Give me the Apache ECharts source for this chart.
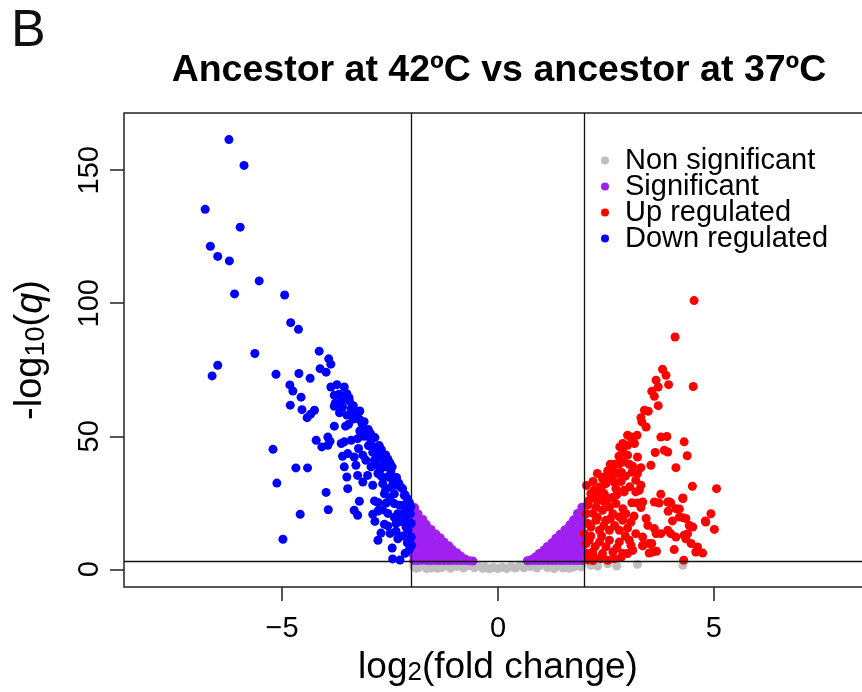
<!DOCTYPE html>
<html><head><meta charset="utf-8">
<script src="https://cdn.jsdelivr.net/npm/echarts@6/dist/echarts.min.js"></script>
<style>html,body{margin:0;padding:0;background:#fff}#c{width:862px;height:692px}</style>
</head><body><div id="c"></div>
<script>
const panelLabel = 'B';
const chartTitle = 'Ancestor at 42ºC vs ancestor at 37ºC';
const legendNames = ['Non significant', 'Significant', 'Up regulated', 'Down regulated'];
const xTicks = [-5, 0, 5];
const yTicks = [0, 50, 100, 150];
const foldThresholds = [-2, 2];
const qThreshold = 3;

const nonSig = [
[-1.95,1.2],[-1.85,0.6],[-1.8,1.9],[-1.7,0.9],[-1.6,2.2],[-1.55,0.5],[-1.45,1.4],[-1.35,2.3],[-1.3,0.7],[-1.2,1.6],
[-1.1,0.4],[-1.05,2.1],[-0.95,1.1],[-0.85,1.9],[-0.8,0.5],[-0.7,1.3],[-0.6,2.0],[-0.55,0.6],[-0.45,1.2],[-0.35,0.4],
[-0.3,1.0],[-0.2,0.2],[-0.1,0.7],[0,0.3],[0.1,0.8],[0.2,0.3],[0.3,1.0],[0.4,0.5],[0.5,1.3],[0.6,0.6],
[0.65,1.9],[0.75,1.0],[0.85,2.1],[0.9,0.5],[1.0,1.5],[1.1,2.4],[1.15,0.7],[1.25,1.8],[1.35,0.9],[1.45,2.2],
[1.5,0.5],[1.6,1.5],[1.7,2.3],[1.75,0.8],[1.85,1.6],[1.92,0.9],[2.15,1.5],[2.31,1.2],[2.54,2.1],[2.75,1.2],
[3.23,1.9],[4.28,1.5],[-1.9,0.4],[-1.65,0.3],[-1.4,0.4],[1.3,0.3],[1.65,0.4],[1.95,2.2],[-1.95,2.4]
];

const sig = [
[-1.95,3.3],[-1.96,5.5],[-1.95,7.7],[-1.97,10.3],[-1.95,12.1],[-1.96,14.3],[-1.95,16.5],[-1.96,18.7],[-1.94,20.9],[-1.93,23.2],
[-1.85,3.3],[-1.86,5.6],[-1.85,7.8],[-1.84,9.9],[-1.85,12.2],[-1.86,14.3],[-1.85,16.6],[-1.84,18.8],[-1.85,20.8],
[-1.75,3.4],[-1.76,5.5],[-1.75,7.7],[-1.74,9.9],[-1.75,12.1],[-1.76,14.4],[-1.75,16.5],[-1.74,18.7],
[-1.65,3.3],[-1.65,5.5],[-1.66,7.7],[-1.65,9.9],[-1.64,12.1],[-1.65,14.3],[-1.66,16.8],
[-1.55,3.3],[-1.56,5.5],[-1.55,7.7],[-1.54,9.9],[-1.55,12.1],[-1.55,15.0],
[-1.45,3.3],[-1.45,5.5],[-1.46,7.7],[-1.45,9.9],[-1.44,13.3],
[-1.35,3.3],[-1.36,5.5],[-1.35,7.8],[-1.35,9.9],[-1.34,11.9],
[-1.25,3.3],[-1.26,5.5],[-1.25,7.7],[-1.25,10.3],
[-1.15,3.3],[-1.15,5.5],[-1.16,7.6],[-1.14,8.9],
[-1.05,3.3],[-1.05,5.4],[-1.06,7.4],
[-0.95,3.3],[-0.96,5.0],[-0.95,6.2],
[-0.85,3.3],[-0.86,4.9],
[-0.75,3.3],[-0.76,3.9],[-0.66,3.2],[-0.58,3.1],
[1.95,3.3],[1.96,5.5],[1.95,7.7],[1.96,9.9],[1.95,12.1],[1.94,14.3],[1.95,16.5],[1.96,18.7],[1.95,20.9],[1.94,23.3],
[1.85,3.3],[1.86,5.5],[1.85,7.7],[1.84,9.9],[1.85,12.1],[1.86,14.3],[1.85,16.5],[1.85,18.7],[1.84,21.0],
[1.75,3.3],[1.75,5.5],[1.76,7.7],[1.75,9.9],[1.74,12.1],[1.75,14.3],[1.76,16.5],[1.75,18.6],
[1.65,3.3],[1.66,5.5],[1.65,7.7],[1.65,9.9],[1.64,12.1],[1.65,14.3],[1.66,16.7],
[1.55,3.3],[1.55,5.5],[1.56,7.7],[1.55,9.9],[1.54,12.1],[1.55,14.9],
[1.45,3.3],[1.46,5.5],[1.45,7.7],[1.45,9.9],[1.44,13.2],
[1.35,3.3],[1.35,5.5],[1.36,7.7],[1.35,9.9],[1.34,11.7],
[1.25,3.3],[1.26,5.5],[1.25,7.7],[1.25,10.0],
[1.15,3.3],[1.15,5.5],[1.16,7.5],[1.14,8.6],
[1.05,3.3],[1.05,5.4],[1.06,7.2],
[0.95,3.3],[0.96,4.8],[0.95,5.9],
[0.85,3.3],[0.86,4.6],
[0.75,3.3],[0.76,3.6],[0.68,3.2]
];

const up = [
[4.54,101.0],[4.10,87.3],[4.52,68.7],[3.81,75.2],[3.89,72.9],[3.66,71.1],[3.71,68.5],[3.95,69.4],[3.56,66.9],[3.62,65.0],
[3.71,61.5],[3.39,59.8],[3.48,59.4],[3.31,57.0],[3.33,55.4],[3.43,53.5],[3.77,49.7],[3.91,49.9],[3.00,50.4],[3.08,49.7],
[3.22,50.4],[2.89,47.3],[3.00,46.6],[3.16,47.3],[4.31,47.9],[3.64,43.9],[3.85,44.7],[3.93,44.1],[4.38,42.7],[2.89,44.1],
[3.00,42.9],[3.23,42.2],[2.92,40.3],[3.04,39.5],[3.54,39.1],[4.12,38.2],[3.12,38.7],[3.31,38.2],[3.23,36.0],[2.54,37.0],
[2.66,37.2],[2.77,36.0],[2.86,36.4],[2.46,34.7],[2.62,34.1],[2.69,32.8],[5.06,30.3],[4.50,31.2],[3.19,33.5],[3.31,31.6],
[3.27,29.7],[3.19,29.1],[2.73,30.3],[2.92,29.7],[3.77,28.2],[4.28,26.8],[2.23,29.7],[2.35,28.4],[2.46,28.4],[3.62,25.3],
[3.73,24.9],[3.93,25.3],[4.00,24.9],[3.23,24.9],[3.35,25.3],[3.31,23.2],[4.20,22.7],[3.94,21.8],[4.93,20.9],[4.80,18.2],
[5.01,15.0],[4.28,19.4],[4.04,18.2],[2.89,22.8],[2.92,20.9],[3.08,17.8],[3.43,19.1],[3.47,16.5],[3.62,15.3],[3.77,13.4],
[3.93,14.7],[4.00,13.4],[4.12,12.1],[4.43,16.5],[4.51,15.9],[4.39,13.4],[4.35,11.5],[4.47,9.7],[4.62,8.4],[4.74,6.1],
[4.58,6.5],[4.08,7.4],[4.30,3.4],[3.35,8.8],[3.50,6.1],[3.67,6.8],[3.56,9.7],[3.08,9.0],[3.00,5.9],[2.85,4.4],
[2.69,4.0],[2.54,3.4],[2.38,4.0],[2.23,4.6],[2.08,5.9],[2.04,9.7],[2.00,13.4],[2.08,17.2],[2.04,20.9],[2.08,24.7],
[2.15,28.4],[2.42,34.1],[2.50,32.2],[2.35,30.9],[2.27,29.1],[2.19,27.8],[2.11,25.9],[2.08,24.1],[2.92,29.1],[2.27,23.4],
[2.42,22.2],[2.58,23.4],[2.73,24.7],[2.66,20.9],[2.50,18.4],[2.27,18.4],[2.15,15.9],[2.35,14.7],[2.58,14.7],[2.81,14.7],
[2.89,18.4],[2.96,20.9],[2.81,19.7],[2.11,10.9],[2.35,10.3],[2.58,10.9],[2.81,10.3],[3.04,10.9],[3.19,13.4],[3.35,12.1],
[3.50,9.7],[3.66,13.4],[2.19,6.5],[2.42,5.9],[2.66,6.5],[2.89,5.9],[3.12,7.1],[3.35,9.0],[3.58,6.5],[3.97,25.3],
[4.12,22.8],[4.28,26.6],[4.20,19.7],[4.35,19.1],[4.31,12.8],[4.81,17.8],[2.2,33.0],[2.3,36.0],[2.4,31.0],[2.55,26.5],
[2.65,27.0],[2.75,28.0],[2.2,21.0],[2.3,26.0],[2.45,25.5],[2.6,19.0],[2.7,16.5],[2.4,12.5],[2.5,8.5],[2.25,8.5],
[2.15,12.5],[2.3,19.5],[2.45,16.5],[2.1,3.5],[2.2,3.3],[2.75,8.0],[2.95,12.5],[3.0,15.5],[3.15,20.0],[3.1,25.0],
[3.05,31.0],[2.85,33.0],[2.95,35.0],[3.1,36.5],[2.8,39.5],[2.82,46.0],[2.8,42.5],[2.7,39.5],[2.6,39.5],[2.05,31.5]
];

const down = [
[-6.23,161.5],[-5.88,151.8],[-6.78,135.3],[-5.97,128.6],[-6.66,121.4],[-6.49,117.6],[-6.22,115.9],[-5.53,108.4],[-6.10,103.5],[-4.94,103.1],
[-4.80,92.7],[-4.62,90.2],[-5.63,81.1],[-4.14,82.0],[-3.92,79.1],[-3.87,77.1],[-4.12,75.4],[-3.98,74.1],[-6.49,76.7],[-6.62,72.7],
[-5.14,73.3],[-4.61,73.6],[-4.35,71.8],[-4.82,69.3],[-4.75,67.0],[-4.56,64.7],[-4.81,61.7],[-4.54,60.0],[-4.42,57.0],[-4.25,59.8],
[-4.34,58.3],[-3.87,68.5],[-3.73,69.4],[-3.56,68.5],[-3.79,65.4],[-3.68,65.8],[-3.50,66.0],[-3.77,62.3],[-3.65,62.9],[-3.44,63.2],
[-3.79,61.3],[-3.40,60.4],[-3.67,58.8],[-3.21,56.4],[-3.15,54.8],[-3.79,53.8],[-3.53,53.8],[-3.46,54.5],[-3.09,52.9],[-3.02,50.6],
[-4.21,48.5],[-3.94,49.7],[-3.89,48.1],[-4.08,46.0],[-3.94,46.6],[-3.63,47.3],[-3.56,47.9],[-3.40,48.5],[-3.25,49.1],[-3.23,45.4],
[-2.94,48.5],[-2.88,46.0],[-2.78,43.5],[-5.21,45.1],[-3.60,42.5],[-3.48,43.5],[-3.33,42.2],[-3.13,42.9],[-3.06,41.0],[-2.86,41.0],
[-2.75,42.2],[-2.67,42.9],[-4.68,38.1],[-4.41,38.1],[-3.56,38.5],[-3.29,39.1],[-2.94,38.5],[-2.82,39.1],[-2.71,37.9],[-2.59,38.5],
[-2.48,36.6],[-3.50,34.7],[-3.25,35.3],[-3.02,35.3],[-2.78,36.0],[-2.55,34.7],[-2.44,33.5],[-5.12,32.4],[-3.13,32.8],[-2.90,31.6],
[-2.67,32.2],[-2.48,30.9],[-2.32,31.6],[-2.21,30.3],[-3.48,30.3],[-3.98,28.9],[-2.63,28.4],[-2.40,28.4],[-2.17,27.8],[-3.21,25.6],
[-2.86,25.7],[-2.78,25.1],[-2.59,24.9],[-2.40,24.7],[-2.28,24.1],[-2.09,24.7],[-3.93,22.4],[-3.33,22.2],[-3.25,20.3],[-2.90,20.7],
[-2.78,21.9],[-2.67,22.4],[-2.32,20.9],[-2.17,21.5],[-2.03,20.9],[-4.58,20.7],[-2.85,18.0],[-2.63,16.9],[-2.55,16.3],[-2.36,17.2],
[-2.13,15.9],[-2.01,17.2],[-2.71,13.6],[-2.36,14.3],[-2.09,14.7],[-4.98,11.3],[-2.78,10.9],[-2.32,11.5],[-2.01,12.1],[-2.45,8.0],
[-2.44,3.9],[-2.27,3.5],[-3.45,64.5],[-3.35,61.5],[-3.3,58.5],[-3.2,59.5],[-3.1,55.5],[-3.0,52.5],[-2.95,51.0],[-2.85,49.5],
[-2.75,46.5],[-2.7,45.0],[-2.6,43.0],[-2.55,41.5],[-2.5,40.0],[-2.45,38.5],[-2.35,34.5],[-2.3,32.5],[-2.25,31.0],[-2.15,28.0],
[-2.1,26.5],[-2.05,25.0],[-2.02,23.5],[-2.05,23.0],[-2.1,22.0],[-2.15,19.0],[-2.25,18.0],[-2.2,24.0],[-2.5,27.0],[-2.6,30.0],
[-2.7,35.0],[-2.65,40.0],[-2.9,44.0],[-3.0,46.5],[-3.1,50.0],[-3.2,52.0],[-3.35,56.5],[-3.5,58.0],[-3.6,61.0],[-3.55,64.0],
[-2.4,19.5],[-2.55,21.0],[-2.5,13.5],[-2.2,12.5],[-2.1,10.0],[-2.05,7.5],[-2.15,6.0],[-2.0,9.0]
];

const FONT = "'Liberation Sans', Arial, Helvetica, sans-serif";
const chart = echarts.init(document.getElementById('c'), null, {renderer: 'canvas'});
const fmt = v => v < 0 ? '\u2212' + Math.abs(v) : String(v);
const pointSeries = (name, data, color, z) => ({
  name, type: 'scatter', data, symbol: 'circle', symbolSize: 9, z,
  itemStyle: {color, opacity: 1}, silent: true, animation: false
});

chart.setOption({
  animation: false,
  backgroundColor: '#fff',
  grid: {left: 124, top: 113, width: 748, height: 474, show: true, borderColor: '#222', borderWidth: 1.5,
         backgroundColor: 'transparent', containLabel: false, outerBoundsMode: 'none'},
  graphic: [
    {type: 'text', x: 11, y: 32, style: {text: panelLabel, fontSize: 52, fontFamily: FONT, fill: '#111', align: 'left', verticalAlign: 'middle'}},
    {type: 'text', x: 499, y: 71, style: {text: chartTitle, fontSize: 37.5, fontWeight: 'bold', fontFamily: FONT, fill: '#000', align: 'center', verticalAlign: 'middle'}}
  ],
  legend: {
    data: legendNames, orient: 'vertical', left: 596, top: 141, itemGap: -3,
    itemWidth: 30, itemHeight: 8, icon: 'circle',
    textStyle: {fontSize: 29, fontFamily: FONT, color: '#000'}
  },
  xAxis: {
    type: 'value', min: -8.66, max: 8.66,
    axisLine: {show: false, onZero: false}, splitLine: {show: false},
    axisTick: {show: true, length: 14, customValues: xTicks, lineStyle: {color: '#222', width: 1.5}},
    axisLabel: {customValues: xTicks, formatter: fmt, fontSize: 29, fontFamily: FONT, color: '#000', margin: 27},
    name: '{a|log}{s|2}{a|(fold change)}', nameLocation: 'middle', nameGap: 62,
    nameTextStyle: {fontFamily: FONT, color: '#000', rich: {
      a: {fontSize: 37, fontFamily: FONT, color: '#000', lineHeight: 37, padding: [0,0,8,0], verticalAlign: 'top'},
      s: {fontSize: 26, fontFamily: FONT, color: '#000', lineHeight: 26, verticalAlign: 'bottom'}
    }}
  },
  yAxis: {
    type: 'value', min: -6.65, max: 171.5,
    axisLine: {show: false, onZero: false}, splitLine: {show: false},
    axisTick: {show: true, length: 14, customValues: yTicks, lineStyle: {color: '#222', width: 1.5}},
    axisLabel: {customValues: yTicks, rotate: 90, fontSize: 29, fontFamily: FONT, color: '#000', margin: 20},
    name: '{a|-log}{s|10}{a|(}{q|q}{a|)}', nameLocation: 'middle', nameGap: 74,
    nameTextStyle: {fontFamily: FONT, color: '#000', rich: {
      a: {fontSize: 38, fontFamily: FONT, color: '#000', lineHeight: 38, padding: [0,0,10,0], verticalAlign: 'top'},
      q: {fontSize: 38, fontFamily: FONT, fontStyle: 'italic', color: '#000', lineHeight: 38, padding: [0,0,10,0], verticalAlign: 'top'},
      s: {fontSize: 27, fontFamily: FONT, color: '#000', lineHeight: 27, verticalAlign: 'bottom'}
    }}
  },
  series: [
    pointSeries(legendNames[0], nonSig, '#BEBEBE', 2),
    pointSeries(legendNames[1], sig, '#A020F0', 3),
    pointSeries(legendNames[2], up, '#FF0000', 4),
    pointSeries(legendNames[3], down, '#0000FF', 5),
    {
      type: 'scatter', data: [], silent: true, z: 6,
      markLine: {
        silent: true, symbol: 'none', animation: false, label: {show: false},
        lineStyle: {color: '#111', width: 1.3, type: 'solid'},
        data: [...foldThresholds.map(v => ({xAxis: v})), {yAxis: qThreshold}]
      }
    }
  ]
});
</script>
</body></html>
